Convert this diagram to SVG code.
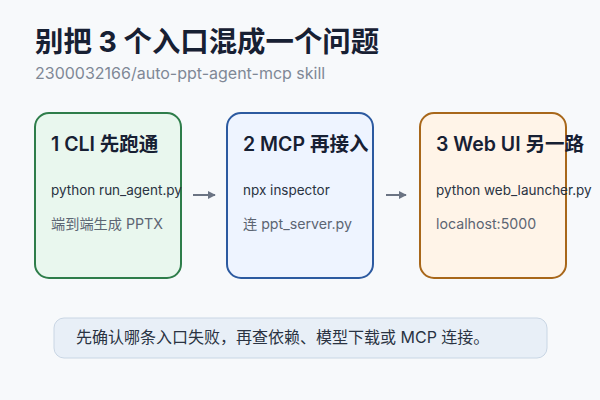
<svg xmlns="http://www.w3.org/2000/svg" width="600" height="400" viewBox="0 0 600 400">
<style>
text{font-family:Inter,"Noto Sans CJK SC",sans-serif}
.h{font-size:28.4px;font-weight:700;fill:#172033}
.sub{font-size:16px;fill:#7f8896}
.card{stroke-width:2}
.ct{font-size:19.5px;font-weight:600;fill:#172033}
.l1{font-size:13.5px;fill:#2a3342}
.l2{font-size:14.2px;fill:#5c6573}
.note{font-size:16px;fill:#2a3342}
.conn{stroke:#6b7483;stroke-width:2;fill:none}
</style>
<defs>
<marker id="ah" viewBox="0 0 10 10" refX="9" refY="5" markerWidth="4" markerHeight="4" orient="auto"><path d="M0,0L10,5L0,10z" fill="#6b7483"/></marker>
</defs>
<rect width="600" height="400" fill="#f7f9fb"/>
<text class="h" x="35" y="52">别把 3 个入口混成一个问题</text>
<text class="sub" x="35" y="79">2300032166/auto-ppt-agent-mcp skill</text>
<g id="cli">
<rect class="card" x="35" y="113" width="146" height="165" rx="14" fill="#e9f7ee" stroke="#2e7d4a"/>
<text class="ct" x="51" y="151">1 CLI 先跑通</text>
<text class="l1" x="51" y="195">python run_agent.py</text>
<text class="l2" x="51" y="229">端到端生成 PPTX</text>
</g>
<g id="mcp">
<rect class="card" x="227" y="113" width="146" height="165" rx="14" fill="#eef4ff" stroke="#2c5aa0"/>
<text class="ct" x="243" y="151">2 MCP 再接入</text>
<text class="l1" x="243" y="195">npx inspector</text>
<text class="l2" x="243" y="229">连 ppt_server.py</text>
</g>
<g id="web">
<rect class="card" x="420" y="113" width="146" height="165" rx="14" fill="#fff4e8" stroke="#a8671a"/>
<text class="ct" x="436" y="151">3 Web UI 另一路</text>
<text class="l1" x="436" y="195">python web_launcher.py</text>
<text class="l2" x="436" y="229">localhost:5000</text>
</g>
<g id="connectors">
<line class="conn" x1="193" y1="195" x2="215" y2="195" marker-end="url(#ah)"/>
<line class="conn" x1="386" y1="195" x2="406" y2="195" marker-end="url(#ah)"/>
</g>
<g id="note">
<rect x="54" y="318" width="493" height="40" rx="10" fill="#e8eff7" stroke="#c9d6e4" stroke-width="1"/>
<text class="note" x="76" y="343">先确认哪条入口失败，再查依赖、模型下载或 MCP 连接。</text>
</g>
</svg>
